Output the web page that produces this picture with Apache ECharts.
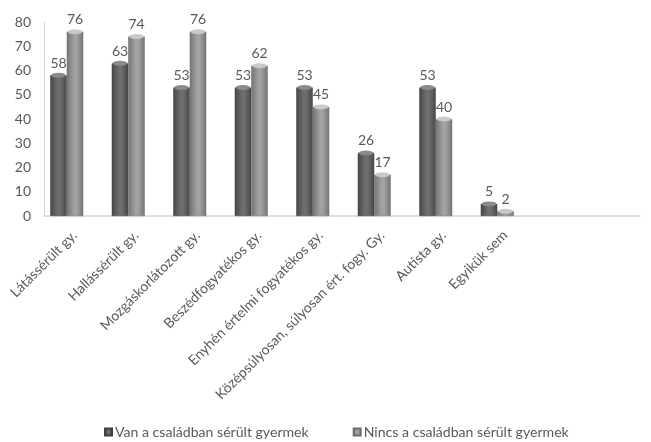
<!DOCTYPE html>
<html>
<head>
<meta charset="utf-8">
<script src="https://cdn.jsdelivr.net/npm/echarts@6/dist/echarts.min.js"></script>
<style>
  html, body { margin: 0; padding: 0; background: #ffffff; }
  #chart { width: 651px; height: 442px; }
</style>
</head>
<body>
<div id="chart"></div>
<script>
// Categories and values
const categories = [
  'Látássérült gy.',
  'Hallássérült gy.',
  'Mozgáskorlátozott gy.',
  'Beszédfogyatékos gy.',
  'Enyhén értelmi fogyatékos gy.',
  'Középsúlyosan, súlyosan ért. fogy. Gy.',
  'Autista gy.',
  'Egyikük sem'
];
const seriesNames = ['Van a családban sérült gyermek', 'Nincs a családban sérült gyermek'];
const withChild = [58, 63, 53, 53, 53, 26, 53, 5];
const withoutChild = [76, 74, 76, 62, 45, 17, 40, 2];
const yTicks = { min: 0, max: 80, interval: 10 };

const FONT = 'Lato, "Open Sans", sans-serif';
const TEXT = '#595959';
const BAR_W = 16.5;

function cylinder(edge, mid) {
  return {
    type: 'linear', x: 0, y: 0, x2: 1, y2: 0,
    colorStops: [
      { offset: 0, color: edge },
      { offset: 0.45, color: mid },
      { offset: 0.6, color: mid },
      { offset: 1, color: edge }
    ]
  };
}

const chart = echarts.init(document.getElementById('chart'), null, { renderer: 'canvas' });

const plotTop = 22, plotBottom = 226, band = 61.5;

chart.setOption({
  animation: false,
  backgroundColor: '#ffffff',
  textStyle: { fontFamily: FONT },
  grid: [
    // bars
    { left: 36, top: plotTop, bottom: plotBottom, width: band * categories.length },
    // frame (axis lines + y tick labels)
    { left: 44, top: plotTop, bottom: plotBottom, right: 11 },
    // category labels
    { left: 44, top: plotTop, bottom: plotBottom, width: band * categories.length }
  ],
  legend: {
    data: seriesNames,
    left: 99,
    top: 420,
    itemWidth: 7,
    itemHeight: 7,
    itemGap: 44,
    icon: 'rect',
    textStyle: { fontFamily: FONT, fontSize: 14.1, color: TEXT, padding: [0, 0, 0, -2] }
  },
  xAxis: [
    { gridIndex: 0, type: 'category', data: categories, axisLine: { show: false },
      axisTick: { show: false }, axisLabel: { show: false } },
    { gridIndex: 1, type: 'value', min: 0, max: 1, axisLine: { show: true, lineStyle: { color: '#d4d4d4', width: 1.5 } },
      axisTick: { show: false }, axisLabel: { show: false }, splitLine: { show: false } },
    { gridIndex: 2, type: 'category', data: categories, axisLine: { show: false },
      axisTick: { show: false },
      axisLabel: { rotate: 45, margin: 17, interval: 0, fontFamily: FONT, fontSize: 14, color: TEXT } }
  ],
  yAxis: [
    { gridIndex: 0, type: 'value', min: yTicks.min, max: yTicks.max, interval: yTicks.interval, show: false },
    { gridIndex: 1, type: 'value', min: yTicks.min, max: yTicks.max, interval: yTicks.interval,
      axisLine: { show: true, lineStyle: { color: '#d4d4d4', width: 1 } },
      axisTick: { show: false }, splitLine: { show: false },
      axisLabel: { margin: 13, fontFamily: FONT, fontSize: 14, color: TEXT } },
    { gridIndex: 2, type: 'value', min: yTicks.min, max: yTicks.max, show: false }
  ],
  series: [
    {
      name: seriesNames[0], type: 'bar', xAxisIndex: 0, yAxisIndex: 0,
      data: withChild, barWidth: BAR_W, barGap: '0%',
      itemStyle: { color: cylinder('#474747', '#6e6e6e'), borderColor: '#3e3e3e', borderWidth: 0.5 },
      label: { show: true, position: 'top', distance: 5, fontFamily: FONT, fontSize: 14, color: TEXT },
      z: 2
    },
    {
      name: seriesNames[1], type: 'bar', xAxisIndex: 0, yAxisIndex: 0,
      data: withoutChild, barWidth: BAR_W, barGap: '0%',
      itemStyle: { color: cylinder('#747474', '#a2a2a2'), borderColor: '#6e6e6e', borderWidth: 0.5 },
      label: { show: true, position: 'top', distance: 5, fontFamily: FONT, fontSize: 14, color: TEXT },
      z: 2
    },
    {
      // top caps of the dark cylinders
      type: 'pictorialBar', xAxisIndex: 0, yAxisIndex: 0, legendHoverLink: false,
      data: withChild, symbol: 'circle', symbolSize: [BAR_W - 2, 5], symbolPosition: 'end',
      symbolOffset: [-BAR_W / 2, '-50%'], itemStyle: { color: '#8a8a8a' }, z: 3, silent: true
    },
    {
      // top caps of the light cylinders
      type: 'pictorialBar', xAxisIndex: 0, yAxisIndex: 0, legendHoverLink: false,
      data: withoutChild, symbol: 'circle', symbolSize: [BAR_W - 2, 5], symbolPosition: 'end',
      symbolOffset: [BAR_W / 2, '-50%'], itemStyle: { color: '#c9c9c9' }, z: 3, silent: true
    }
  ],
  color: ['#555555', '#8e8e8e']
});
</script>
</body>
</html>
